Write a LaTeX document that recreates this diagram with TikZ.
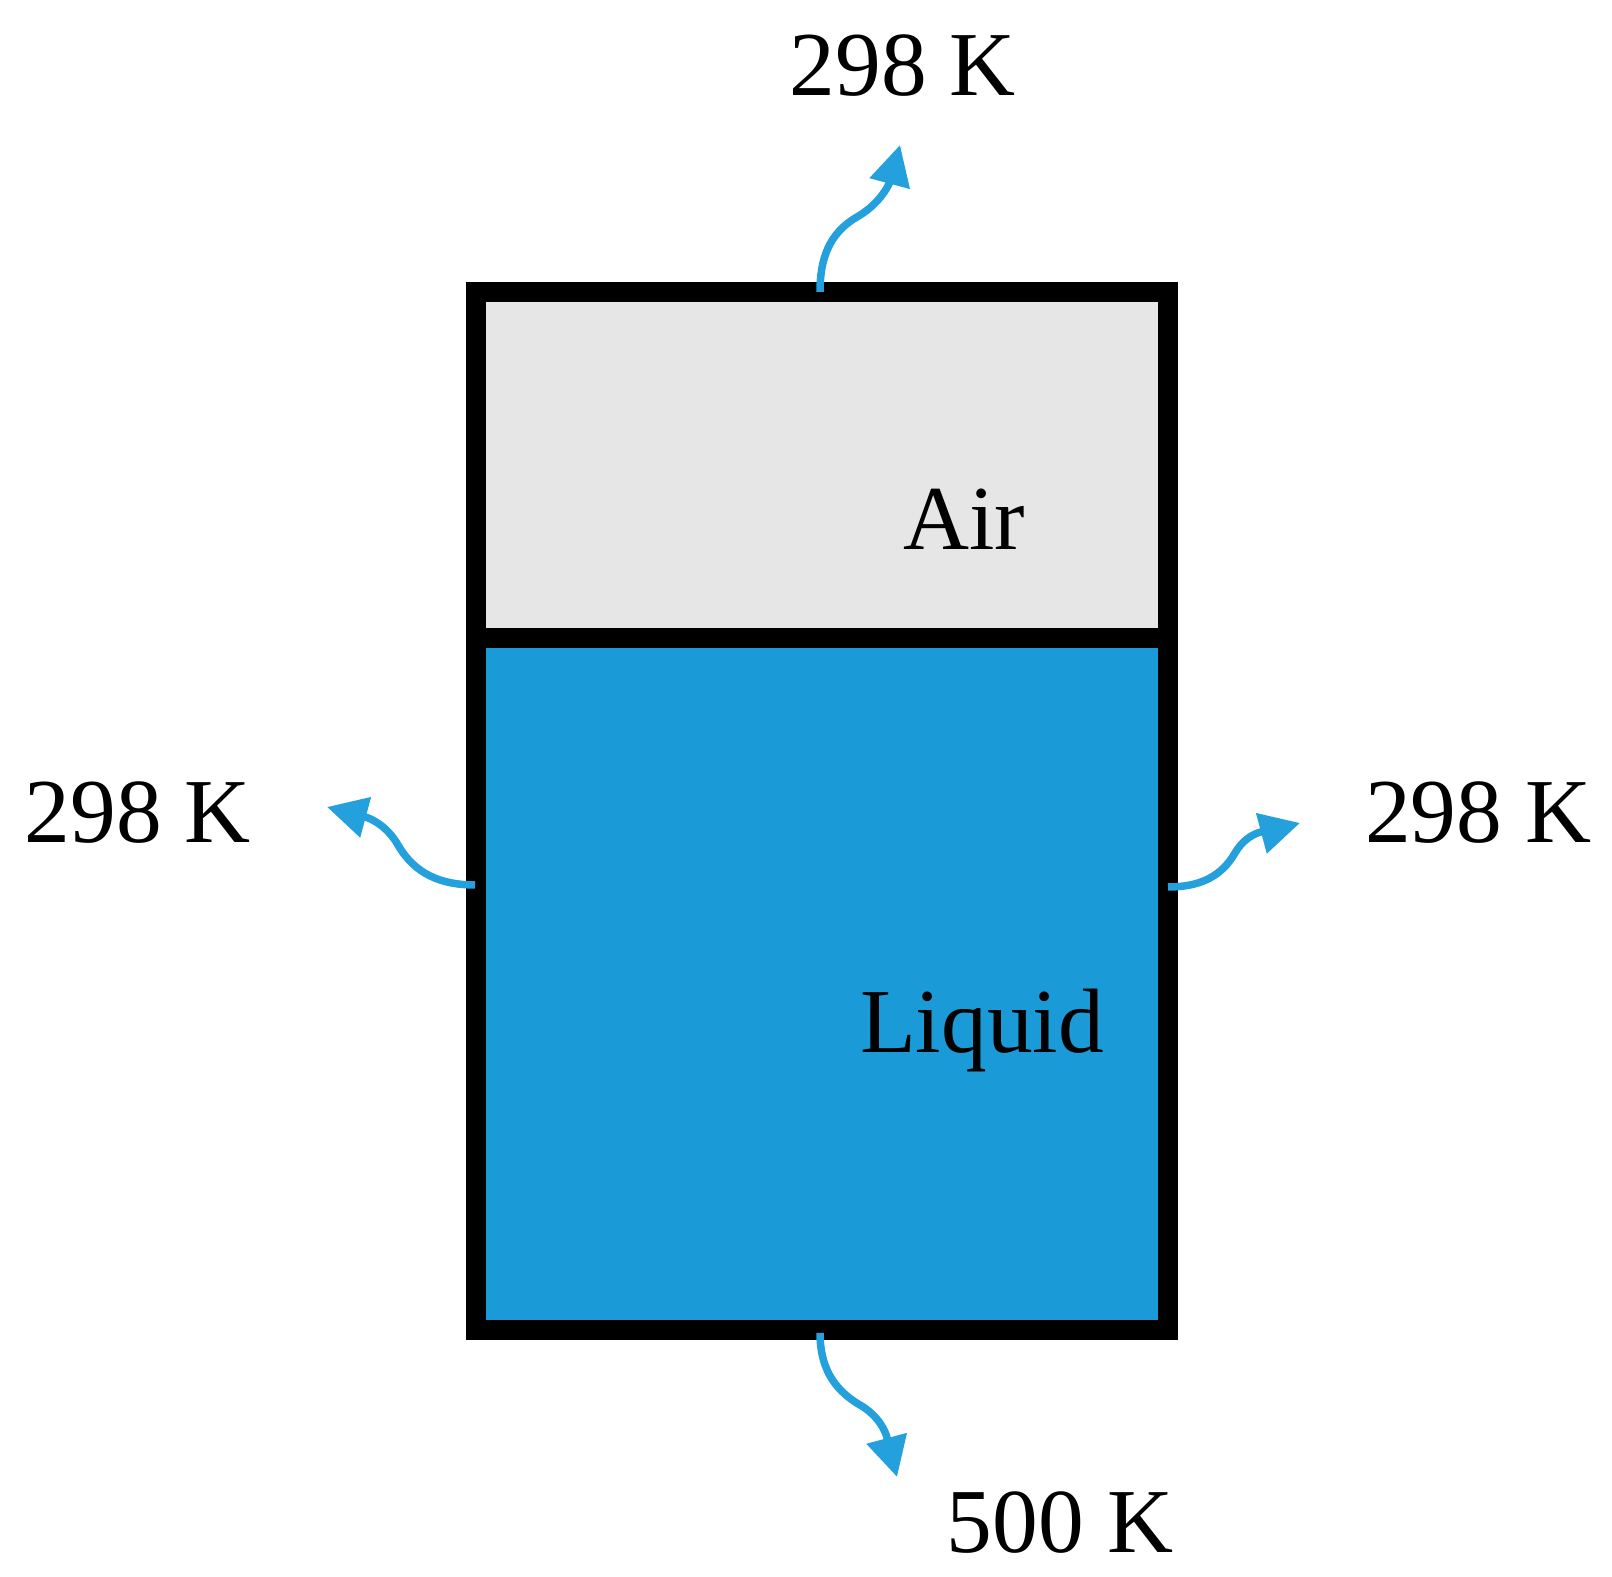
\documentclass[tikz,border=0pt]{standalone}
\usepackage{fontspec}
\setmainfont{Liberation Serif}
\usepackage{xcolor}
\usepackage{tikz}
\usetikzlibrary{arrows.meta, positioning, calc}

\definecolor{liquidblue}{RGB}{26,155,215}
\definecolor{heatblue}{RGB}{36,160,220}
\definecolor{airgray}{RGB}{230,230,230}

\begin{document}
\begin{tikzpicture}[x=0.01cm, y=0.01cm,
  heat/.style={heatblue, line width=0.075cm, -{Triangle[length=0.4cm, width=0.4cm]}},
  temp/.style={font=\fontsize{26}{31}\selectfont, inner sep=0pt, anchor=base}]
  \useasboundingbox (0,0) rectangle (1612,1577);

  % Container corners
  \coordinate (SW) at (475.5,247);
  \coordinate (NE) at (1168,1284.5);
  \coordinate (L) at (475.5,939);
  \coordinate (R) at (1168,939);

  % Fill air and liquid
  \fill[airgray] (L) rectangle (NE);
  \fill[liquidblue] (SW) rectangle (R);

  % Draw walls and interface
  \draw[line width=0.2cm] (SW) rectangle (NE);
  \draw[line width=0.2cm] (L) -- (R);

  % Labels
  \node[temp] (air) at (964,1027) {Air};
  \node[temp] (liquid) at (982,524) {Liquid};
  \node[temp] (ttop) at (903,1481) {298 K};
  \node[temp] (tleft) at (138,734) {298 K};
  \node[temp] (tright) at (1478,734) {298 K};
  \node[temp] (tbottom) at (1060,24) {500 K};

  % Heat flow arrows
  \coordinate (top0) at (820,1285);
  \coordinate (top1) at (900,1432);
  \coordinate (left0) at (475,692);
  \coordinate (left1) at (327,770);
  \coordinate (right0) at (1168,690);
  \coordinate (right1) at (1300,754);
  \coordinate (bot0) at (820,244);
  \coordinate (bot1) at (897,100);

  \draw[heat] (top0) to[out=90,in=210] (857,1360) to[out=30,in=255] (top1);
  \draw[heat] (left0) to[out=180,in=-60] (398,732) to[out=120,in=-15] (left1);
  \draw[heat] (right0) to[out=0,in=240] (1235,724) to[out=60,in=195] (right1);
  \draw[heat] (bot0) to[out=-90,in=150] (860,172) to[out=-30,in=105] (bot1);
\end{tikzpicture}
\end{document}
